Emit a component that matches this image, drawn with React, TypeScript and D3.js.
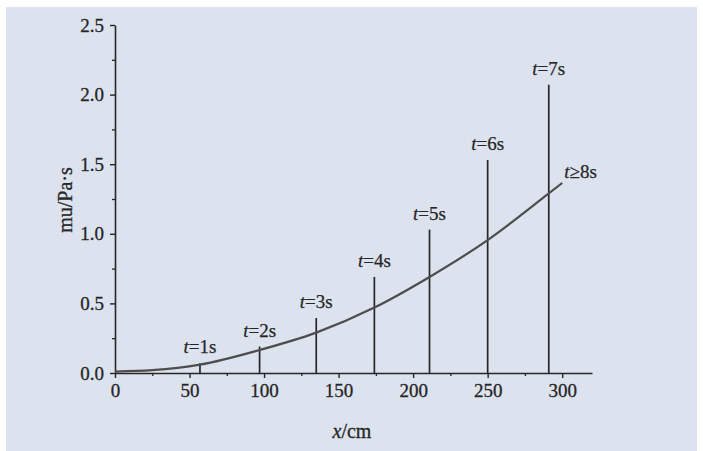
import React, { useRef, useEffect } from "react";
import * as d3 from "d3";

// values
const spikeLabels = ["=1s", "=2s", "=3s", "=4s", "=5s", "=6s", "=7s"];
const spikeX = [57, 97, 135, 174, 211, 250, 291];
const spikePeak = [0.07, 0.19, 0.395, 0.69, 1.03, 1.53, 2.07];

const curveX = [0, 25, 57, 97, 135, 174, 211, 250, 291, 300];
const curveMu = [0.01, 0.02, 0.06, 0.165, 0.29, 0.47, 0.69, 0.955, 1.29, 1.365];

const xTicks = [0, 50, 100, 150, 200, 250, 300];
const xMinor = [25, 75, 125, 175, 225, 275];
const yTicks = [0, 0.5, 1.0, 1.5, 2.0, 2.5];
const yMinor = [0.25, 0.75, 1.25, 1.75, 2.25];

const W = 703;
const H = 451;
const FONT = "Liberation Serif, DejaVu Serif, serif";
const INK = "#262626";

const App = () => {
  const ref = useRef<SVGSVGElement | null>(null);

  useEffect(() => {
    const svg = d3.select(ref.current);
    svg.selectAll("*").remove();

    // paper background with thin white border
    svg.append("rect").attr("width", W).attr("height", H).attr("fill", "#ffffff");
    svg
      .append("rect")
      .attr("x", 6)
      .attr("y", 7)
      .attr("width", W - 12)
      .attr("height", H - 7)
      .attr("fill", "#dce2ee");

    const x = d3.scaleLinear().domain([0, 320]).range([115, 592]);
    const y = d3.scaleLinear().domain([0, 2.5]).range([373, 25]);

    // minor ticks
    svg
      .append("g")
      .attr("transform", `translate(0,${y(0)})`)
      .call(d3.axisBottom(x).tickValues(xMinor).tickSize(3).tickFormat(() => ""))
      .call((g) => g.select(".domain").remove())
      .call((g) => g.selectAll("line").attr("stroke", INK).attr("stroke-width", 1.3));

    svg
      .append("g")
      .attr("transform", `translate(${x(0)},0)`)
      .call(d3.axisLeft(y).tickValues(yMinor).tickSize(3).tickFormat(() => ""))
      .call((g) => g.select(".domain").remove())
      .call((g) => g.selectAll("line").attr("stroke", INK).attr("stroke-width", 1.3));

    // main axes
    const xAxis = svg
      .append("g")
      .attr("transform", `translate(0,${y(0)})`)
      .call(
        d3
          .axisBottom(x)
          .tickValues(xTicks)
          .tickSize(5)
          .tickSizeOuter(0)
          .tickPadding(6)
          .tickFormat(d3.format("d"))
      );

    const yAxis = svg
      .append("g")
      .attr("transform", `translate(${x(0)},0)`)
      .call(
        d3
          .axisLeft(y)
          .tickValues(yTicks)
          .tickSize(5)
          .tickSizeOuter(0)
          .tickPadding(6)
          .tickFormat(d3.format(".1f"))
      );

    [xAxis, yAxis].forEach((g) => {
      g.attr("font-family", FONT).attr("font-size", 19);
      g.select(".domain").attr("stroke", INK).attr("stroke-width", 1.6);
      g.selectAll("line").attr("stroke", INK).attr("stroke-width", 1.4);
      g.selectAll("text")
        .attr("font-family", FONT)
        .attr("font-size", 19)
        .attr("fill", INK)
        .attr("stroke", INK)
        .attr("stroke-width", 0.3);
    });

    // curve (t >= 8s)
    const pts = curveX.map((d, i) => [d, curveMu[i]] as [number, number]);
    const line = d3
      .line<[number, number]>()
      .x((d) => x(d[0]))
      .y((d) => y(d[1]))
      .curve(d3.curveMonotoneX);

    // spikes
    svg
      .append("g")
      .selectAll("line")
      .data(spikeX)
      .join("line")
      .attr("x1", (d) => x(d))
      .attr("x2", (d) => x(d))
      .attr("y1", y(0))
      .attr("y2", (d, i) => y(spikePeak[i]))
      .attr("stroke", INK)
      .attr("stroke-width", 1.7);

    svg
      .append("path")
      .datum(pts)
      .attr("d", line)
      .attr("fill", "none")
      .attr("stroke", "#4d4d4d")
      .attr("stroke-width", 2.2);

    // spike labels
    const labels = svg
      .append("g")
      .attr("font-family", FONT)
      .attr("font-size", 19)
      .attr("fill", INK)
      .attr("stroke", INK)
      .attr("stroke-width", 0.25)
      .selectAll("text")
      .data(spikeX)
      .join("text")
      .attr("x", (d) => x(d))
      .attr("y", (d, i) => y(spikePeak[i]) - 10)
      .attr("text-anchor", "middle");
    labels.append("tspan").attr("font-style", "italic").text("t");
    labels.append("tspan").text((d, i) => spikeLabels[i]);

    const last = svg
      .append("text")
      .attr("x", x(300) + 2)
      .attr("y", y(1.365) - 5)
      .attr("font-family", FONT)
      .attr("font-size", 19)
      .attr("fill", INK)
      .attr("stroke", INK)
      .attr("stroke-width", 0.25);
    last.append("tspan").attr("font-style", "italic").text("t");
    last.append("tspan").text("≥8s");

    // axis titles
    const xt = svg
      .append("text")
      .attr("x", 352)
      .attr("y", 438)
      .attr("text-anchor", "middle")
      .attr("font-family", FONT)
      .attr("font-size", 20)
      .attr("fill", INK)
      .attr("stroke", INK)
      .attr("stroke-width", 0.3);
    xt.append("tspan").attr("font-style", "italic").text("x");
    xt.append("tspan").text("/cm");

    svg
      .append("text")
      .attr("transform", "translate(72,200) rotate(-90)")
      .attr("text-anchor", "middle")
      .attr("font-family", FONT)
      .attr("font-size", 20)
      .attr("fill", INK)
      .attr("stroke", INK)
      .attr("stroke-width", 0.3)
      .text("mu/Pa·s");
  }, []);

  return (
    <svg
      ref={ref}
      width={W}
      height={H}
      style={{ position: "absolute", left: 0, top: 0, display: "block" }}
    />
  );
};

export default App;
